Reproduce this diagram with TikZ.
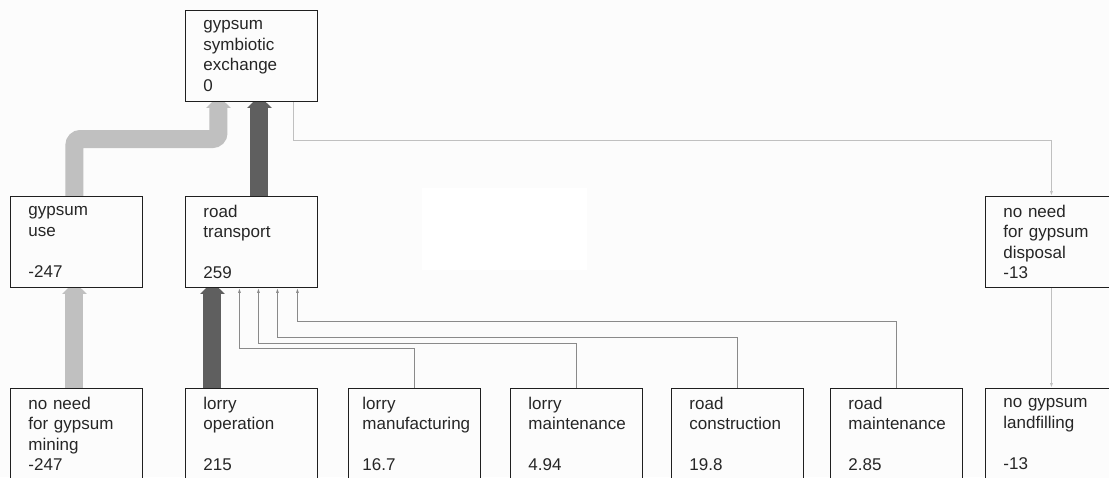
\documentclass[tikz,border=0pt]{standalone}
\usepackage{fontspec}
\setmainfont{Liberation Sans}
\usetikzlibrary{arrows.meta,backgrounds}
\definecolor{paper}{HTML}{FCFCFC}
\definecolor{lightflow}{HTML}{C0C0C0}
\definecolor{darkflow}{HTML}{5F5F5F}
\definecolor{wire}{HTML}{8A8A8A}
\tikzset{
  box/.style={draw=black!88, line width=0.9pt, fill=paper, anchor=north west,
    minimum width=132pt, minimum height=91pt, inner xsep=18pt, inner ysep=0pt,
    text width=96pt, align=left, text=black!85,
    font=\fontsize{17}{20.5}\selectfont},
  widebox/.style={box, inner xsep=14pt, text width=104pt},
  pipe/.style={line width=18pt, -{Triangle[width=24pt,length=12pt]}},
  lightpipe/.style={pipe, draw=lightflow},
  darkpipe/.style={pipe, draw=darkflow},
  wireflow/.style={draw=wire, line width=0.9pt, -{Latex[length=5pt,width=3pt]}},
  paleflow/.style={draw=lightflow, line width=0.9pt, -{Latex[length=5pt,width=3pt]}}
}
\begin{document}
\begin{tikzpicture}[x=1pt, y=-1pt]
\useasboundingbox (0,0) rectangle (1109,477);
\clip (0,0) rectangle (1109,477);

% top
\node[box] (exch) at (185,10) {gypsum\\symbiotic\\exchange\\0};

% middle row
\node[box] (use) at (10,196) {gypsum\\use\\[20.5pt]-247};
\node[box] (trans) at (185,196) {road\\transport\\[20.5pt]259};
\node[box, minimum width=128pt] (disp) at (985,196) {no need\\for gypsum\\disposal\\-13};

% bottom row
\node[box] (mining) at (10,388) {no need\\for gypsum\\mining\\-247};
\node[box] (oper) at (185,388) {lorry\\operation\\[20.5pt]215};
\node[widebox] (manu) at (348,388) {lorry\\manufacturing\\[20.5pt]16.7};
\node[box] (maint) at (510,388) {lorry\\maintenance\\[20.5pt]4.94};
\node[box] (constr) at (671,388) {road\\construction\\[20.5pt]19.8};
\node[box] (roadm) at (830,388) {road\\maintenance\\[20.5pt]2.85};
\node[box, minimum width=128pt] (landf) at (985,388) {no gypsum\\landfilling\\[20.5pt]-13};

\begin{scope}[on background layer]
\fill[paper] (0,0) rectangle (1109,477);
\fill[white] (422,188) rectangle (587,270);

% heads end inside the boxes, so only their lower part shows
\draw[lightpipe, rounded corners=6pt] ([xshift=-2pt]use.north) -- ++(0,-57) -| ([xshift=-33pt,yshift=6pt]exch.south);
\draw[darkpipe] ([xshift=8pt]trans.north) -- ([xshift=8pt,yshift=6pt]exch.south);
\draw[lightpipe] ([xshift=-2pt]mining.north) -- ([xshift=-2pt,yshift=6pt]use.south);
\draw[darkpipe] ([xshift=-39pt]oper.north) -- ([xshift=-39pt,yshift=6pt]trans.south);

\draw[wireflow] (manu.north) -- ++(0,-40) -| ([xshift=-12pt]trans.south);
\draw[wireflow] (maint.north) -- ++(0,-45) -| ([xshift=7pt]trans.south);
\draw[wireflow] (constr.north) -- ++(0,-51) -| ([xshift=26pt]trans.south);
\draw[wireflow] (roadm.north) -- ++(0,-67) -| ([xshift=46pt]trans.south);

\draw[paleflow] ([xshift=42pt]exch.south) -- ++(0,39) -| (disp.north);
\draw[paleflow] (disp.south) -- (landf.north);
\end{scope}
\end{tikzpicture}
\end{document}
